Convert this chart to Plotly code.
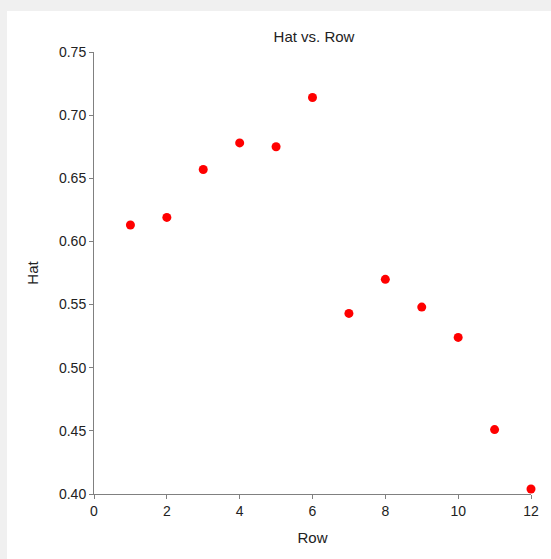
import plotly.graph_objects as go

rows = [1, 2, 3, 4, 5, 6, 7, 8, 9, 10, 11, 12]
hat = [0.613, 0.619, 0.657, 0.678, 0.675, 0.714, 0.543, 0.570, 0.548, 0.524, 0.451, 0.404]

fig = go.Figure()
fig.add_trace(go.Scatter(x=rows, y=hat, mode="markers",
                         marker=dict(color="#ff0000", size=9),
                         cliponaxis=False, showlegend=False))

axis_common = dict(showgrid=False, zeroline=False, showline=True, linecolor="#808080",
                   linewidth=1, ticks="outside", ticklen=4, tickcolor="#808080",
                   tickfont=dict(family="Liberation Sans, Arial", size=14, color="#222"))

fig.update_layout(
    width=551, height=559,
    margin=dict(l=94, r=15, t=52, b=65),
    paper_bgcolor="#f0f0f0",
    plot_bgcolor="white",
    font=dict(family="Liberation Sans, Arial", color="#222"),
    title=dict(text="Hat vs. Row", x=314/551, xanchor="center", y=1-37/559, yanchor="middle",
               yref="container", font=dict(size=15, color="#222")),
    xaxis=dict(range=[0, 12], tickvals=[0, 2, 4, 6, 8, 10, 12], ticktext=["0", "2", "4", "6", "8", "10", "12"],
               title=dict(text="Row", standoff=14, font=dict(size=15)), **axis_common),
    yaxis=dict(range=[0.40, 0.75], tickvals=[0.40, 0.45, 0.50, 0.55, 0.60, 0.65, 0.70, 0.75],
               ticktext=["0.40", "0.45", "0.50", "0.55", "0.60", "0.65", "0.70", "0.75"],
               title=dict(text="Hat", standoff=16, font=dict(size=15)), **axis_common),
    shapes=[dict(type="rect", xref="paper", yref="paper", x0=(6-94)/442, x1=(560-94)/442,
                 y0=(494-570)/442, y1=(494-11)/442, fillcolor="white", line=dict(width=0), layer="below")],
)

fig.write_html("out.html")
